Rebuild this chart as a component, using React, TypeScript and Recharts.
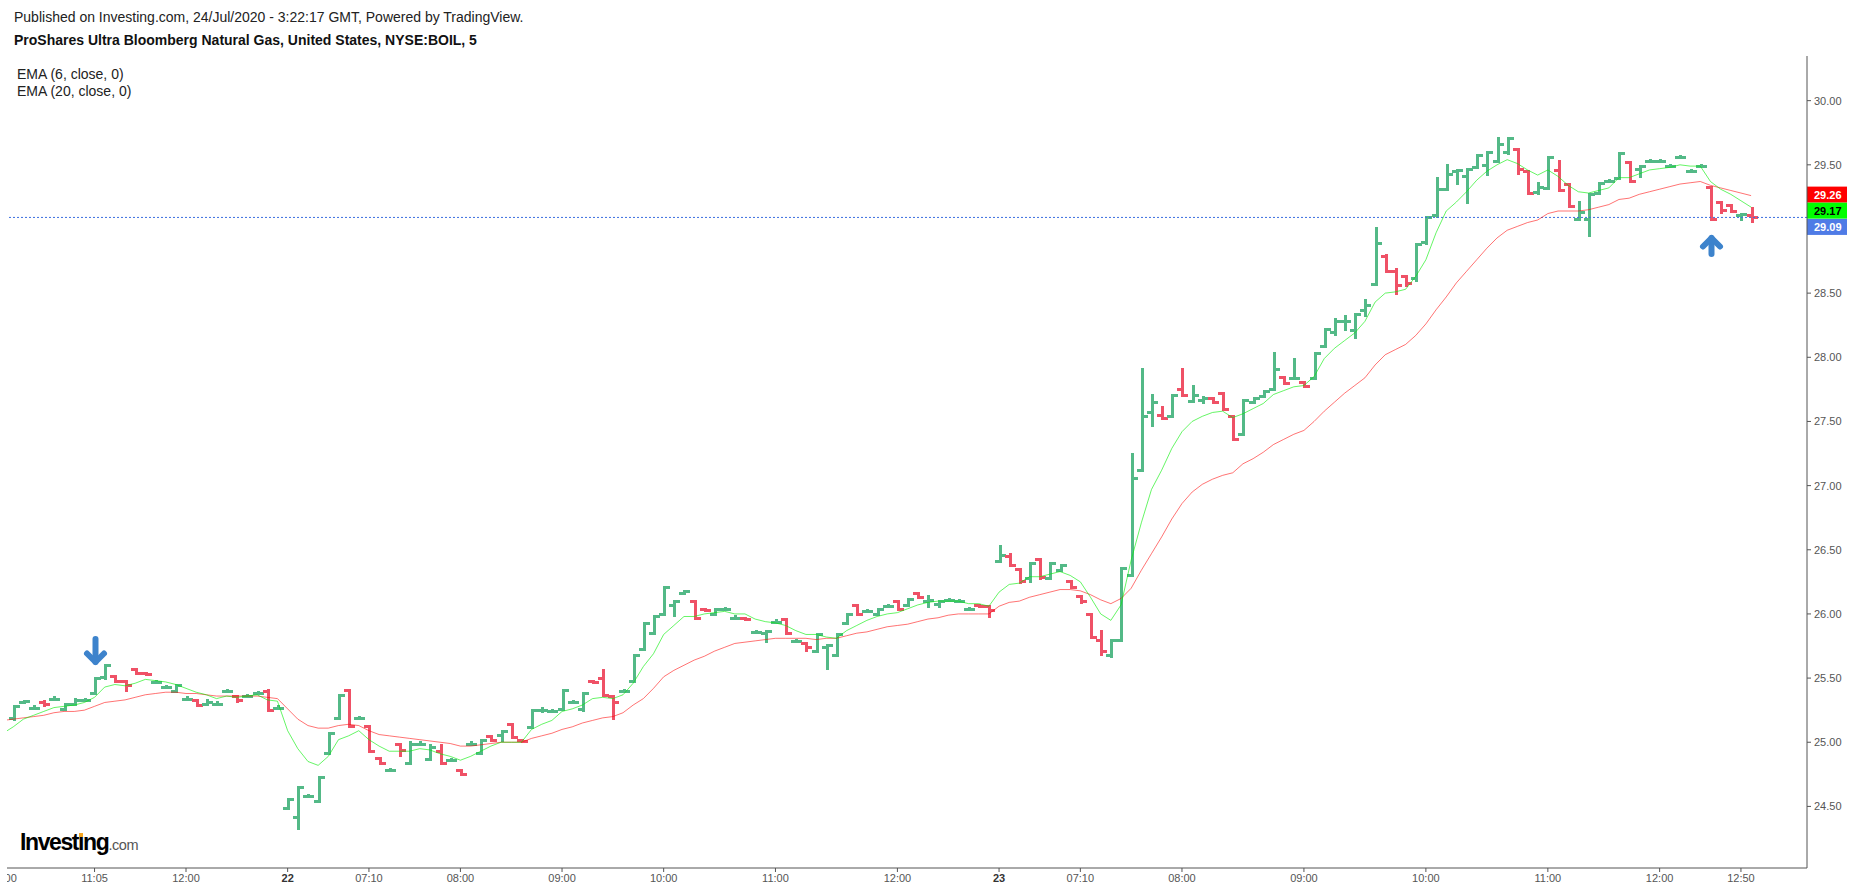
import React from "react";
import { ComposedChart, Bar, Line, XAxis, YAxis, ReferenceLine } from "recharts";

// 5-minute OHLC bars, BOIL, 21-23 Jul 2020 (index 0 sits just off the left edge)
const opens = [
  null,
  25.19, 25.31, 25.27, 25.31, 25.34, 25.26, 25.30, 25.33, 25.38, 25.51,
  25.52, 25.48, 25.57, 25.54, 25.47, 25.43, 25.40, 25.34, 25.33, 25.30,
  25.30, 25.40, 25.36, 25.36, 25.38, 25.40, 25.27, 24.49, 24.42, 24.58,
  24.54, 24.92, 25.19, 25.41, 25.19, 25.13, 24.88, 24.78, 24.99, 24.84,
  24.99, 24.87, 24.93, 24.86, 24.78, 24.99, 24.92, 25.05, 25.06, 25.14,
  25.02, 25.12, 25.25, 25.24, 25.26, 25.31, 25.26, 25.48, 25.50, 25.36,
  25.40, 25.48, 25.73, 25.85, 26.00, 26.07, 26.16, 26.10, 26.04, 26.00,
  26.04, 25.97, 25.97, 25.86, 25.85, 25.94, 25.96, 25.79, 25.77, 25.71,
  25.74, 25.68, 25.93, 26.07, 26.02, 26.00, 26.06, 26.10, 26.07, 26.16,
  26.10, 26.08, 26.11, 26.10, 26.04, 26.07, 26.06, 26.41, 26.45, 26.35,
  26.28, 26.43, 26.28, 26.34, 26.26, 26.14, 26.00, 25.80, 25.68, 25.80,
  26.30, 27.12, 27.57, 27.55, 27.54, 27.75, 27.66, 27.67, 27.68, 27.72,
  27.54, 27.40, 27.65, 27.70, 27.75, 27.85, 27.84, 27.81, 27.84, 28.09,
  28.20, 28.28, 28.21, 28.37, 28.57, 28.79, 28.67, 28.63, 28.62, 28.90,
  29.11, 29.31, 29.45, 29.41, 29.48, 29.50, 29.53, 29.60, 29.62, 29.45,
  29.29, 29.32, 29.46, 29.35, 29.08, 29.08, 29.28, 29.37, 29.40, 29.52,
  29.47, 29.53, 29.53, 29.49, 29.56, 29.45, 29.49, 29.33, 29.21, 29.19,
  29.11, 29.11,
];
const highs = [
  null,
  25.28, 25.32, 25.28, 25.32, 25.35, 25.30, 25.34, 25.34, 25.50, 25.60,
  25.52, 25.48, 25.57, 25.54, 25.48, 25.44, 25.45, 25.35, 25.33, 25.33,
  25.31, 25.41, 25.36, 25.37, 25.39, 25.41, 25.28, 24.56, 24.65, 24.59,
  24.73, 25.07, 25.37, 25.41, 25.20, 25.13, 24.88, 24.79, 24.99, 25.00,
  25.00, 24.98, 24.98, 24.87, 24.78, 25.00, 25.02, 25.05, 25.09, 25.14,
  25.02, 25.25, 25.27, 25.25, 25.41, 25.32, 25.38, 25.48, 25.56, 25.36,
  25.41, 25.68, 25.93, 25.98, 26.21, 26.10, 26.18, 26.10, 26.04, 26.04,
  26.05, 25.98, 25.97, 25.87, 25.87, 25.95, 25.96, 25.80, 25.77, 25.84,
  25.76, 25.84, 26.00, 26.07, 26.03, 26.04, 26.07, 26.10, 26.12, 26.16,
  26.14, 26.10, 26.12, 26.11, 26.05, 26.07, 26.06, 26.53, 26.47, 26.35,
  26.40, 26.43, 26.40, 26.38, 26.26, 26.14, 26.00, 25.87, 25.80, 26.36,
  27.25, 27.91, 27.71, 27.61, 27.71, 27.91, 27.78, 27.69, 27.68, 27.72,
  27.54, 27.67, 27.68, 27.74, 28.03, 27.85, 27.99, 27.81, 28.03, 28.22,
  28.30, 28.32, 28.34, 28.45, 29.01, 28.80, 28.69, 28.63, 28.88, 29.09,
  29.40, 29.50, 29.46, 29.47, 29.58, 29.60, 29.71, 29.71, 29.62, 29.45,
  29.36, 29.56, 29.53, 29.35, 29.21, 29.27, 29.36, 29.38, 29.59, 29.52,
  29.49, 29.54, 29.54, 29.50, 29.57, 29.46, 29.50, 29.33, 29.21, 29.19,
  29.12, 29.16,
];
const lows = [
  null,
  25.18, 25.31, 25.27, 25.29, 25.34, 25.26, 25.30, 25.33, 25.38, 25.50,
  25.48, 25.41, 25.54, 25.53, 25.47, 25.43, 25.40, 25.34, 25.29, 25.30,
  25.30, 25.40, 25.32, 25.36, 25.38, 25.25, 25.27, 24.49, 24.33, 24.58,
  24.54, 24.92, 25.19, 25.13, 25.19, 24.93, 24.84, 24.78, 24.90, 24.84,
  24.99, 24.87, 24.84, 24.86, 24.75, 24.99, 24.92, 25.02, 25.02, 25.04,
  25.01, 25.12, 25.24, 25.24, 25.26, 25.31, 25.25, 25.47, 25.37, 25.19,
  25.40, 25.48, 25.73, 25.85, 26.00, 25.99, 26.16, 25.97, 26.03, 26.00,
  26.04, 25.97, 25.96, 25.86, 25.79, 25.94, 25.85, 25.79, 25.72, 25.71,
  25.58, 25.68, 25.93, 26.00, 26.02, 26.00, 26.06, 26.04, 26.07, 26.13,
  26.06, 26.06, 26.11, 26.10, 26.04, 26.06, 25.98, 26.41, 26.38, 26.25,
  26.26, 26.28, 26.28, 26.34, 26.21, 26.09, 25.82, 25.69, 25.67, 25.80,
  26.30, 27.12, 27.47, 27.53, 27.54, 27.71, 27.66, 27.65, 27.65, 27.60,
  27.36, 27.40, 27.65, 27.70, 27.75, 27.80, 27.84, 27.78, 27.84, 28.09,
  28.18, 28.22, 28.16, 28.33, 28.57, 28.67, 28.50, 28.56, 28.60, 28.89,
  29.10, 29.31, 29.36, 29.21, 29.48, 29.43, 29.53, 29.59, 29.44, 29.28,
  29.28, 29.32, 29.30, 29.18, 29.08, 28.95, 29.28, 29.37, 29.40, 29.37,
  29.41, 29.53, 29.53, 29.49, 29.56, 29.45, 29.49, 29.08, 29.13, 29.14,
  29.08, 29.06,
];
const closes = [
  null,
  25.28, 25.32, 25.27, 25.30, 25.34, 25.30, 25.33, 25.33, 25.50, 25.60,
  25.48, 25.45, 25.54, 25.53, 25.47, 25.43, 25.45, 25.34, 25.29, 25.31,
  25.30, 25.40, 25.33, 25.36, 25.38, 25.25, 25.27, 24.56, 24.65, 24.58,
  24.73, 25.07, 25.37, 25.13, 25.19, 24.93, 24.84, 24.78, 24.94, 24.99,
  24.99, 24.96, 24.84, 24.86, 24.75, 24.99, 25.02, 25.02, 25.09, 25.04,
  25.01, 25.25, 25.25, 25.24, 25.41, 25.31, 25.38, 25.47, 25.37, 25.31,
  25.40, 25.68, 25.93, 25.98, 26.21, 26.10, 26.18, 25.97, 26.03, 26.04,
  26.04, 25.97, 25.96, 25.86, 25.87, 25.94, 25.85, 25.79, 25.74, 25.84,
  25.76, 25.84, 26.00, 26.00, 26.02, 26.04, 26.06, 26.04, 26.12, 26.13,
  26.11, 26.10, 26.11, 26.10, 26.04, 26.06, 26.03, 26.46, 26.38, 26.26,
  26.40, 26.29, 26.40, 26.38, 26.21, 26.10, 25.82, 25.71, 25.80, 26.36,
  27.06, 27.54, 27.65, 27.53, 27.71, 27.71, 27.71, 27.68, 27.65, 27.60,
  27.36, 27.67, 27.68, 27.74, 27.91, 27.80, 27.84, 27.78, 28.03, 28.22,
  28.28, 28.28, 28.34, 28.41, 28.89, 28.67, 28.56, 28.58, 28.88, 29.09,
  29.31, 29.43, 29.46, 29.47, 29.58, 29.60, 29.66, 29.71, 29.47, 29.28,
  29.33, 29.56, 29.30, 29.18, 29.13, 29.27, 29.36, 29.37, 29.59, 29.37,
  29.49, 29.53, 29.53, 29.49, 29.56, 29.45, 29.49, 29.08, 29.15, 29.14,
  29.12, 29.09,
];
const ema6 = [
  25.07,
  25.12, 25.18, 25.21, 25.24, 25.27, 25.28, 25.29, 25.31, 25.35, 25.43,
  25.45, 25.44, 25.46, 25.49, 25.48, 25.47, 25.45, 25.42, 25.39, 25.37,
  25.34, 25.36, 25.35, 25.36, 25.37, 25.33, 25.32, 25.09, 24.95, 24.85,
  24.82, 24.89, 25.02, 25.05, 25.09, 25.02, 24.97, 24.93, 24.93, 24.93,
  24.95, 24.94, 24.91, 24.89, 24.86, 24.89, 24.93, 24.97, 25.00, 25.00,
  25.00, 25.10, 25.14, 25.17, 25.24, 25.26, 25.29, 25.34, 25.35, 25.34,
  25.37, 25.46, 25.59, 25.69, 25.84, 25.91, 25.98, 25.98, 26.00, 26.01,
  26.02, 26.00, 26.00, 25.96, 25.94, 25.93, 25.91, 25.87, 25.84, 25.84,
  25.82, 25.81, 25.87, 25.91, 25.95, 25.98, 26.00, 26.01, 26.04, 26.07,
  26.09, 26.10, 26.10, 26.10, 26.08, 26.08, 26.06, 26.17, 26.23, 26.24,
  26.29, 26.29, 26.31, 26.33, 26.30, 26.25, 26.13, 26.00, 25.95, 26.07,
  26.42, 26.71, 26.97, 27.12, 27.29, 27.42, 27.50, 27.54, 27.57, 27.58,
  27.53, 27.56, 27.60, 27.64, 27.71, 27.74, 27.77, 27.78, 27.85, 27.99,
  28.07, 28.13, 28.19, 28.28, 28.43, 28.50, 28.51, 28.53, 28.63, 28.76,
  28.97, 29.14, 29.21, 29.29, 29.38, 29.45, 29.50, 29.54, 29.51, 29.46,
  29.42, 29.46, 29.41, 29.34, 29.29, 29.28, 29.30, 29.32, 29.40, 29.40,
  29.43, 29.46, 29.47, 29.48, 29.50, 29.49, 29.49, 29.37, 29.31, 29.27,
  29.22, 29.17,
];
const ema20 = [
  25.17,
  25.18, 25.19, 25.20, 25.21, 25.23, 25.24, 25.24, 25.25, 25.28, 25.31,
  25.32, 25.33, 25.35, 25.37, 25.38, 25.39, 25.39, 25.38, 25.38, 25.37,
  25.36, 25.36, 25.36, 25.36, 25.36, 25.35, 25.34, 25.26, 25.18, 25.13,
  25.11, 25.11, 25.13, 25.14, 25.13, 25.09, 25.06, 25.05, 25.04, 25.03,
  25.02, 25.01, 25.00, 24.99, 24.97, 24.97, 24.98, 24.99, 25.00, 25.00,
  25.00, 25.03, 25.05, 25.07, 25.10, 25.12, 25.15, 25.17, 25.19, 25.20,
  25.23, 25.29, 25.34, 25.42, 25.51, 25.56, 25.60, 25.64, 25.67, 25.71,
  25.74, 25.77, 25.78, 25.79, 25.80, 25.81, 25.81, 25.81, 25.81, 25.80,
  25.81, 25.81, 25.83, 25.85, 25.86, 25.88, 25.90, 25.91, 25.92, 25.94,
  25.96, 25.97, 25.99, 26.00, 26.00, 26.00, 26.00, 26.06, 26.09, 26.10,
  26.13, 26.15, 26.17, 26.19, 26.19, 26.18, 26.15, 26.11, 26.08, 26.12,
  26.20, 26.34, 26.47, 26.60, 26.74, 26.86, 26.95, 27.01, 27.05, 27.08,
  27.10, 27.17, 27.21, 27.26, 27.32, 27.36, 27.40, 27.43, 27.50, 27.58,
  27.65, 27.72, 27.78, 27.84, 27.94, 28.02, 28.06, 28.10, 28.17, 28.26,
  28.37, 28.47, 28.58, 28.67, 28.76, 28.85, 28.93, 28.99, 29.02, 29.05,
  29.07, 29.12, 29.14, 29.14, 29.14, 29.15, 29.17, 29.19, 29.23, 29.24,
  29.27, 29.29, 29.31, 29.33, 29.35, 29.36, 29.37, 29.34, 29.32, 29.30,
  29.28, 29.26,
];

// time axis labels and the bar each one sits under
const tickIndex = [0, 9, 18, 28, 36, 45, 55, 65, 76, 88, 98, 106, 116, 128, 140, 152, 163, 171];
const tickText = [
  "10:00", "11:05", "12:00", "22", "07:10", "08:00", "09:00", "10:00", "11:00",
  "12:00", "23", "07:10", "08:00", "09:00", "10:00", "11:00", "12:00", "12:50",
];
// 29.00 is hidden behind the price tags in the original, so it is left out
const priceTicks = [24.5, 25, 25.5, 26, 26.5, 27, 27.5, 28, 28.5, 29.5, 30];

// bars carrying a signal arrow
const sellSignals = [9];
const buySignals = [168];

const FONT = "'Liberation Sans', Arial, Helvetica, sans-serif";
const UP = "#53b987";
const DOWN = "#ef5166";
const ARROW = "#3d83cc";
const AXIS = "#555555";

const data = closes.map((c, i) => ({
  i,
  range: c == null ? null : [lows[i], highs[i]],
  o: opens[i],
  h: highs[i],
  l: lows[i],
  c,
  ema6: ema6[i],
  ema20: ema20[i],
}));

const Arrow = ({ cx, tipY, dir, len }: { cx: number; tipY: number; dir: number; len: number }) => {
  // dir 1 = pointing down, -1 = pointing up; strokes are round so pull in by 3px
  const v = tipY - dir * 3;
  const back = v - dir * 8.5;
  const tail = tipY - dir * (len - 3);
  return (
    <g stroke={ARROW} strokeWidth={6} strokeLinecap="round" strokeLinejoin="round" fill="none">
      <line x1={cx} y1={tail} x2={cx} y2={v} />
      <polyline points={`${cx - 8.5},${back} ${cx},${v} ${cx + 8.5},${back}`} />
    </g>
  );
};

const OhlcBar = (props: any) => {
  const { x, y, width, height, payload } = props;
  if (!payload || payload.c == null) return null;
  const { o, h, l, c, i } = payload;
  const cx = Math.round(x + width / 2);
  const top = Math.min(y, y + height);
  const bot = Math.max(y, y + height);
  const span = h - l;
  const at = (v: number) => (span > 0 ? top + ((h - v) / span) * (bot - top) : top);
  const color = c >= o ? UP : DOWN;
  const oy = Math.round(at(o));
  const cy = Math.round(at(c));
  const t = Math.round(top);
  const b = Math.round(bot);
  return (
    <g>
      <rect x={cx - 1} y={t - 1} width={3} height={b - t + 3} fill={color} />
      <rect x={cx - 5} y={oy - 1} width={4} height={3} fill={color} />
      <rect x={cx + 2} y={cy - 1} width={4} height={3} fill={color} />
      {sellSignals.includes(i) && <Arrow cx={cx + 0.5} tipY={t - 13} dir={1} len={29} />}
      {buySignals.includes(i) && <Arrow cx={cx + 0.5} tipY={b + 16} dir={-1} len={22} />}
    </g>
  );
};

const TimeTick = (props: any) => {
  const { x, y, payload } = props;
  const k = tickIndex.indexOf(payload.value);
  const label = k >= 0 ? tickText[k] : "";
  const isDay = label.length === 2;
  return (
    <text
      x={x}
      y={y}
      dy="0.71em"
      textAnchor="middle"
      fontSize={11}
      fontFamily={FONT}
      fill={isDay ? "#333" : AXIS}
      fontWeight={isDay ? "bold" : "normal"}
    >
      {label}
    </text>
  );
};

const PriceTag = (props: any) => {
  const { viewBox, value, bg, fg, nudge } = props;
  if (!viewBox) return null;
  const x = viewBox.x + viewBox.width;
  const y = viewBox.y + nudge;
  return (
    <g>
      <rect x={x} y={y - 8} width={40} height={16} fill={bg} />
      <text x={x + 7} y={y} dy="0.36em" fontSize={11} fontWeight="bold" fontFamily={FONT} fill={fg}>
        {value.toFixed(2)}
      </text>
    </g>
  );
};

const last = closes.length - 1;

export default function App() {
  return (
    <div
      style={{
        position: "absolute",
        left: 0,
        top: 0,
        width: 1853,
        height: 892,
        background: "#fff",
        overflow: "hidden",
        fontFamily: FONT,
        color: "#222",
      }}
    >
      <div style={{ position: "absolute", left: 7, top: 0, width: 1846, height: 892, overflow: "hidden" }}>
        <div style={{ position: "absolute", left: -9, top: 0 }}>
          <ComposedChart width={1855} height={892} data={data} margin={{ top: 56, right: 0, bottom: 0, left: 0 }}>
            <XAxis
              dataKey="i"
              type="number"
              domain={[-0.5, 177.5]}
              allowDataOverflow
              ticks={tickIndex}
              interval={0}
              tick={<TimeTick />}
              tickSize={4}
              tickMargin={2}
              stroke={AXIS}
              height={24}
            />
            <YAxis
              orientation="right"
              domain={[24.02, 30.348]}
              allowDataOverflow
              ticks={priceTicks}
              interval={0}
              tickFormatter={(v: number) => v.toFixed(2)}
              width={46}
              tickSize={4}
              tickMargin={3}
              stroke={AXIS}
              tick={{ fill: AXIS, fontSize: 11, fontFamily: FONT }}
            />
            <ReferenceLine y={closes[last] as number} stroke="#3b6fe0" strokeDasharray="2 2" />
            <Bar dataKey="range" barSize={11} shape={OhlcBar} isAnimationActive={false} />
            <Line
              dataKey="ema20"
              type="linear"
              stroke="#ff0000"
              strokeOpacity={0.55}
              strokeWidth={1}
              dot={false}
              activeDot={false}
              isAnimationActive={false}
            />
            <Line
              dataKey="ema6"
              type="linear"
              stroke="#00ee00"
              strokeOpacity={0.6}
              strokeWidth={1}
              dot={false}
              activeDot={false}
              isAnimationActive={false}
            />
            <ReferenceLine
              y={ema20[last]}
              stroke="none"
              label={<PriceTag value={ema20[last]} bg="#ff0000" fg="#ffffff" nudge={-1} />}
            />
            <ReferenceLine
              y={ema6[last]}
              stroke="none"
              label={<PriceTag value={ema6[last]} bg="#00ff00" fg="#000000" nudge={3.5} />}
            />
            <ReferenceLine
              y={closes[last] as number}
              stroke="none"
              label={<PriceTag value={closes[last]} bg="#4f7be6" fg="#ffffff" nudge={9.5} />}
            />
          </ComposedChart>
        </div>
      </div>

      <div style={{ position: "absolute", left: 14, top: 9, fontSize: 14, lineHeight: "16px", color: "#222" }}>
        Published on Investing.com, 24/Jul/2020 - 3:22:17 GMT, Powered by TradingView.
      </div>
      <div style={{ position: "absolute", left: 14, top: 32, fontSize: 14, lineHeight: "16px", fontWeight: "bold", color: "#111" }}>
        ProShares Ultra Bloomberg Natural Gas, United States, NYSE:BOIL, 5
      </div>
      <div style={{ position: "absolute", left: 17, top: 66, fontSize: 14, lineHeight: "16px", color: "#222" }}>
        EMA (6, close, 0)
      </div>
      <div style={{ position: "absolute", left: 17, top: 83, fontSize: 14, lineHeight: "16px", color: "#222" }}>
        EMA (20, close, 0)
      </div>

      <div style={{ position: "absolute", left: 20, top: 831, whiteSpace: "nowrap", lineHeight: "23px" }}>
        <span style={{ fontSize: 23, fontWeight: "bold", letterSpacing: -1.4, color: "#000" }}>
          Invest
          <span style={{ position: "relative" }}>
            {"\u0131"}
            <span
              style={{
                position: "absolute",
                left: 1,
                top: 4,
                width: 4,
                height: 4,
                background: "#f5a623",
              }}
            />
          </span>
          ng
        </span>
        <span style={{ fontSize: 14.5, color: "#555", letterSpacing: -0.4 }}>.com</span>
      </div>
    </div>
  );
}
